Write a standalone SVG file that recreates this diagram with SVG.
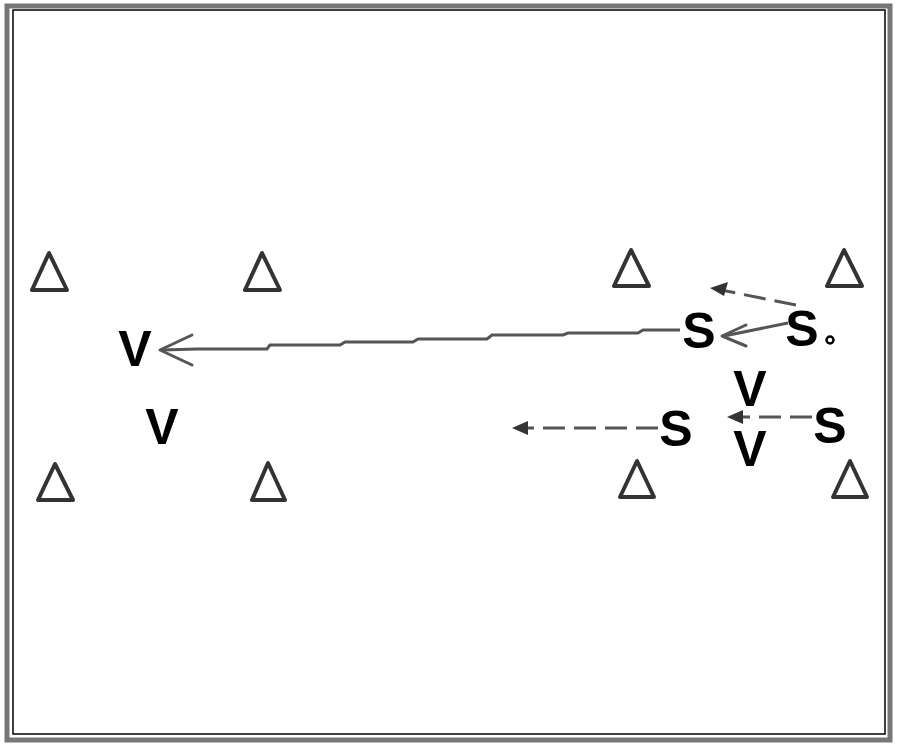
<svg xmlns="http://www.w3.org/2000/svg" width="900" height="750" viewBox="0 0 900 750">
<style>
.cone{fill:#fff;stroke:#333;stroke-width:4;stroke-linejoin:round}
.lbl{font-family:"Liberation Sans",Arial,sans-serif;font-weight:bold;font-size:50px;fill:#000;text-anchor:middle}
.run{fill:none;stroke:#555;stroke-width:3}
.pass{fill:none;stroke:#555;stroke-width:3;stroke-dasharray:22 9}
.head{fill:none;stroke:#555;stroke-width:3;stroke-linecap:round;stroke-linejoin:round}
</style>
<rect width="900" height="750" fill="#fff"/>
<rect x="7" y="6" width="883" height="734" fill="none" stroke="#777" stroke-width="5"/>
<rect x="13" y="10" width="872" height="724" fill="none" stroke="#000" stroke-width="1.5"/>
<g id="cones">
<g id="cone1"><polygon class="cone" points="49,253 32,290 67,290"/></g>
<g id="cone2"><polygon class="cone" points="262,253 245,290 280,290"/></g>
<g id="cone3"><polygon class="cone" points="631,250 614,286 649,286"/></g>
<g id="cone4"><polygon class="cone" points="844,250 827,286 862,286"/></g>
<g id="cone5"><polygon class="cone" points="55,464 38,500 73,500"/></g>
<g id="cone6"><polygon class="cone" points="268,463 252,500 285,500"/></g>
<g id="cone7"><polygon class="cone" points="637,461 620,497 654,497"/></g>
<g id="cone8"><polygon class="cone" points="850,461 833,497 867,497"/></g>
</g>
<g id="players">
<g id="v1"><text class="lbl" x="135" y="366">V</text></g>
<g id="v2"><text class="lbl" x="162" y="444">V</text></g>
<g id="s1"><text class="lbl" x="699" y="348">S</text></g>
<g id="s2"><text class="lbl" x="802" y="346">S</text><circle cx="830" cy="340" r="3.5" fill="#fff" stroke="#000" stroke-width="2.5"/></g>
<g id="s3"><text class="lbl" x="676" y="446">S</text></g>
<g id="s4"><text class="lbl" x="830" y="443">S</text></g>
<g id="v3"><text class="lbl" x="750" y="406">V</text></g>
<g id="v4"><text class="lbl" x="750" y="466">V</text></g>
</g>
<g id="connectors">
<polyline class="run" points="680,330 643,330 638,333 568,333 563,335 492,335 487,339 418,339 413,342 345,342 340,345 270,345 267,349 197,349 162,350"/>
<polyline class="head" points="192,335 160,350 192,365"/>
<line class="run" x1="788" y1="323" x2="724" y2="336"/>
<polyline class="head" points="746,325 722,336 746,346"/>
<line class="pass" x1="796" y1="305" x2="716" y2="289" stroke-dasharray="12 8"/>
<polygon points="710,288 728,282 724,296" fill="#333"/>
<line class="pass" x1="658" y1="428" x2="528" y2="428" stroke-dasharray="27 9"/>
<polygon points="512,428 528,421 528,435" fill="#333"/>
<line class="pass" x1="812" y1="417" x2="740" y2="417" stroke-dasharray="18 10"/>
<polygon points="727,417 743,410 743,424" fill="#333"/>
</g>
</svg>
